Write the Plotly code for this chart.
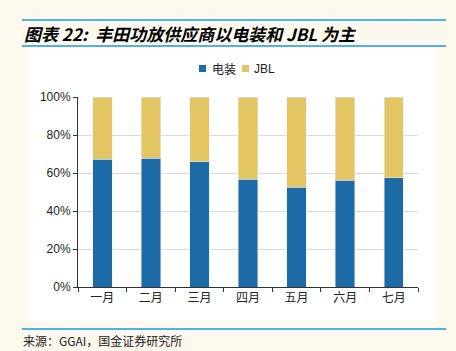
import plotly.graph_objects as go

months = ["一月", "二月", "三月", "四月", "五月", "六月", "七月"]
denso = [0.672, 0.677, 0.658, 0.568, 0.525, 0.563, 0.575]
jbl = [round(1 - v, 3) for v in denso]
yticks = [0, 0.2, 0.4, 0.6, 0.8, 1.0]
yticklabels = ["0%", "20%", "40%", "60%", "80%", "100%"]
series_names = ["电装", "JBL"]

W, H = 456, 351
L, R, T, B = 78, 418, 97, 287

def px(x):
    return (x - L) / (R - L)

def py(y):
    return (B - y) / (B - T)

BLUE = "#1C6BA7"
YEL = "#E3C663"
BG = "#FDF9EF"
LINE = "#4DB3E4"

fig = go.Figure()
fig.add_trace(go.Bar(x=months, y=denso, name=series_names[0], marker_color=BLUE, width=0.4))
fig.add_trace(go.Bar(x=months, y=jbl, name=series_names[1], marker_color=YEL, width=0.4))

shapes = [
    dict(type="line", xref="paper", yref="paper", x0=px(22), x1=px(446), y0=py(20), y1=py(20),
         line=dict(color=LINE, width=2), layer="below"),
    dict(type="line", xref="paper", yref="paper", x0=px(22), x1=px(446), y0=py(46), y1=py(46),
         line=dict(color=LINE, width=2), layer="below"),
    dict(type="rect", xref="paper", yref="paper", x0=px(29), x1=px(435), y0=py(321), y1=py(47),
         fillcolor="white", line=dict(width=0), layer="below"),
    dict(type="line", xref="paper", yref="paper", x0=px(22), x1=px(446), y0=py(329), y1=py(329),
         line=dict(color=LINE, width=2), layer="below"),
    # legend swatches
    dict(type="rect", xref="paper", yref="paper", x0=px(199), x1=px(206), y0=py(72), y1=py(65),
         fillcolor=BLUE, line=dict(width=0)),
    dict(type="rect", xref="paper", yref="paper", x0=px(242), x1=px(249), y0=py(72), y1=py(65),
         fillcolor=YEL, line=dict(width=0)),
]

annotations = [
    dict(text="<b><i>图表 22:  丰田功放供应商以电装和 JBL 为主</i></b>", xref="paper", yref="paper",
         x=px(22), y=py(33), xanchor="left", yanchor="middle", showarrow=False,
         font=dict(size=17, color="black", family="Noto Sans CJK SC")),
    dict(text="来源：GGAI，国金证券研究所", xref="paper", yref="paper",
         x=px(21), y=py(340), xanchor="left", yanchor="middle", showarrow=False,
         font=dict(size=12, color="#222", family="Noto Sans CJK SC")),
    dict(text=series_names[0], xref="paper", yref="paper",
         x=px(210), y=py(68.5), xanchor="left", yanchor="middle", showarrow=False,
         font=dict(size=12, color="#222", family="Noto Sans CJK SC")),
    dict(text=series_names[1], xref="paper", yref="paper",
         x=px(252), y=py(68.5), xanchor="left", yanchor="middle", showarrow=False,
         font=dict(size=12, color="#222", family="Liberation Sans, Arial")),
]

fig.update_layout(
    width=W, height=H,
    margin=dict(l=L, r=W - R, t=T, b=H - B, pad=0),
    paper_bgcolor=BG, plot_bgcolor="white",
    barmode="stack", bargap=0.6,
    shapes=shapes, annotations=annotations,
    font=dict(family="Liberation Sans, Arial", size=12, color="#222"),
    showlegend=False,
)
fig.update_yaxes(range=[0, 1], tickvals=yticks, ticktext=yticklabels, showgrid=True,
                 gridcolor="#D9D9D9", showline=True, linecolor="#333", linewidth=1,
                 ticks="outside", ticklen=4, tickcolor="#333", zeroline=False,
                 tickfont=dict(size=12, family="Liberation Sans, Arial"))
fig.update_xaxes(showline=True, linecolor="#333", linewidth=1, ticks="outside", ticklen=4,
                 tickcolor="#333", tickson="boundaries",
                 tickfont=dict(size=12, family="Noto Sans CJK SC"))

fig.write_html("out.html")
